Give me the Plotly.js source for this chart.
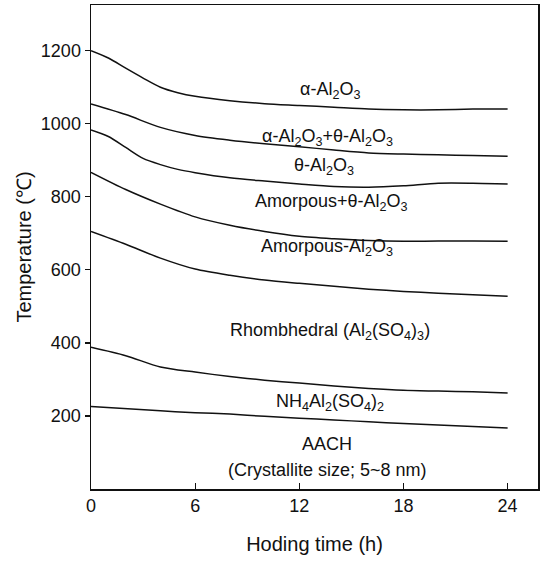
<!DOCTYPE html>
<html>
<head>
<meta charset="utf-8">
<script src="https://cdn.plot.ly/plotly-3.0.1.min.js"></script>
<style>html,body{margin:0;padding:0;background:#fff}#chart{width:542px;height:561px}</style>
</head>
<body>
<div id="chart"></div>
<script>
// Holding time (h)
const tAlpha = [0, 1, 2, 3, 4, 5, 6, 8, 10, 12, 14, 16, 18, 20, 22, 24];
const alphaLine = [1200, 1180, 1152, 1125, 1100, 1085, 1075, 1063, 1055, 1050, 1045, 1040, 1038, 1038, 1040, 1040];

const tAlphaTheta = [0, 2, 4, 6, 8, 10, 12, 14, 16, 18, 20, 22, 24];
const alphaThetaLine = [1054, 1025, 990, 968, 955, 945, 937, 928, 920, 917, 915, 913, 911];

const tTheta = [0, 1, 2, 3, 4, 5, 6, 8, 10, 12, 14, 16, 18, 20, 22, 24];
const thetaLine = [983, 965, 935, 905, 888, 875, 866, 852, 843, 835, 828, 826, 830, 837, 837, 835];

const tAmorTheta = [0, 2, 4, 6, 8, 10, 12, 14, 16, 18, 20, 22, 24];
const amorThetaLine = [867, 820, 780, 745, 722, 705, 692, 685, 680, 678, 679, 679, 678];

const tAmor = [0, 2, 4, 6, 8, 10, 12, 14, 16, 18, 20, 22, 24];
const amorLine = [705, 670, 632, 602, 585, 572, 563, 555, 547, 541, 536, 532, 528];

const tRhomb = [0, 2, 4, 6, 8, 10, 12, 14, 16, 18, 20, 22, 24];
const rhombLine = [388, 365, 334, 320, 308, 298, 290, 282, 275, 270, 268, 266, 263];

const tAach = [0, 4, 6, 8, 10, 12, 14, 16, 18, 20, 22, 24];
const aachLine = [226, 214, 209, 205, 199, 194, 189, 184, 179, 175, 171, 167];

// Phase region labels
const labelText = [
  "α-Al<sub>2</sub>O<sub>3</sub>",
  "α-Al<sub>2</sub>O<sub>3</sub>+θ-Al<sub>2</sub>O<sub>3</sub>",
  "θ-Al<sub>2</sub>O<sub>3</sub>",
  "Amorpous+θ-Al<sub>2</sub>O<sub>3</sub>",
  "Amorpous-Al<sub>2</sub>O<sub>3</sub>",
  "Rhombhedral (Al<sub>2</sub>(SO<sub>4</sub>)<sub>3</sub>)",
  "NH<sub>4</sub>Al<sub>2</sub>(SO<sub>4</sub>)<sub>2</sub>",
  "AACH",
  "(Crystallite size; 5~8 nm)"
];
const labelX = [13.75, 13.6, 13.4, 13.85, 13.6, 13.75, 13.75, 13.6, 13.6];
const labelY = [1090, 963, 882, 785, 662, 431, 236, 124, 51];

const xTicks = [0, 6, 12, 18, 24];
const yTicks = [200, 400, 600, 800, 1000, 1200];

const series = [
  [tAlpha, alphaLine], [tAlphaTheta, alphaThetaLine], [tTheta, thetaLine],
  [tAmorTheta, amorThetaLine], [tAmor, amorLine], [tRhomb, rhombLine], [tAach, aachLine]
];
const traces = series.map(s => ({
  x: s[0], y: s[1], type: 'scatter', mode: 'lines',
  line: {color: '#111', width: 1.5, shape: 'spline', smoothing: 0.8},
  hoverinfo: 'skip', showlegend: false
}));

const fontFam = '"Liberation Sans", Arial, Helvetica, sans-serif';
const annotations = labelText.map((t, i) => ({
  x: labelX[i], y: labelY[i], xref: 'x', yref: 'y', text: t, showarrow: false,
  font: {family: fontFam, size: 18, color: '#111'}, xanchor: 'center', yanchor: 'middle'
}));

const layout = {
  width: 542, height: 561,
  margin: {l: 91, r: 4, t: 5, b: 72},
  paper_bgcolor: '#fff', plot_bgcolor: '#fff',
  font: {family: fontFam, size: 18, color: '#111'},
  showlegend: false,
  xaxis: {
    range: [0, 25.75], tickvals: xTicks, ticktext: xTicks.map(String),
    ticks: 'inside', ticklen: 6, tickwidth: 1.3, tickcolor: '#111',
    showline: true, linecolor: '#111', linewidth: 1.5, mirror: true,
    showgrid: false, zeroline: false,
    tickfont: {family: fontFam, size: 18, color: '#111'},
    title: {text: 'Hoding time (h)', font: {family: fontFam, size: 20, color: '#111'}, standoff: 22}
  },
  yaxis: {
    range: [0, 1325], tickvals: yTicks, ticktext: yTicks.map(String),
    ticks: 'outside', ticklen: 5, tickwidth: 1.3, tickcolor: '#111',
    showline: true, linecolor: '#111', linewidth: 1.5, mirror: true,
    showgrid: false, zeroline: false,
    tickfont: {family: fontFam, size: 18, color: '#111'},
    title: {text: 'Temperature (℃)', font: {family: fontFam, size: 20, color: '#111'}, standoff: 4}
  },
  annotations: annotations
};

Plotly.newPlot('chart', traces, layout, {staticPlot: true, displayModeBar: false});
</script>
</body>
</html>
